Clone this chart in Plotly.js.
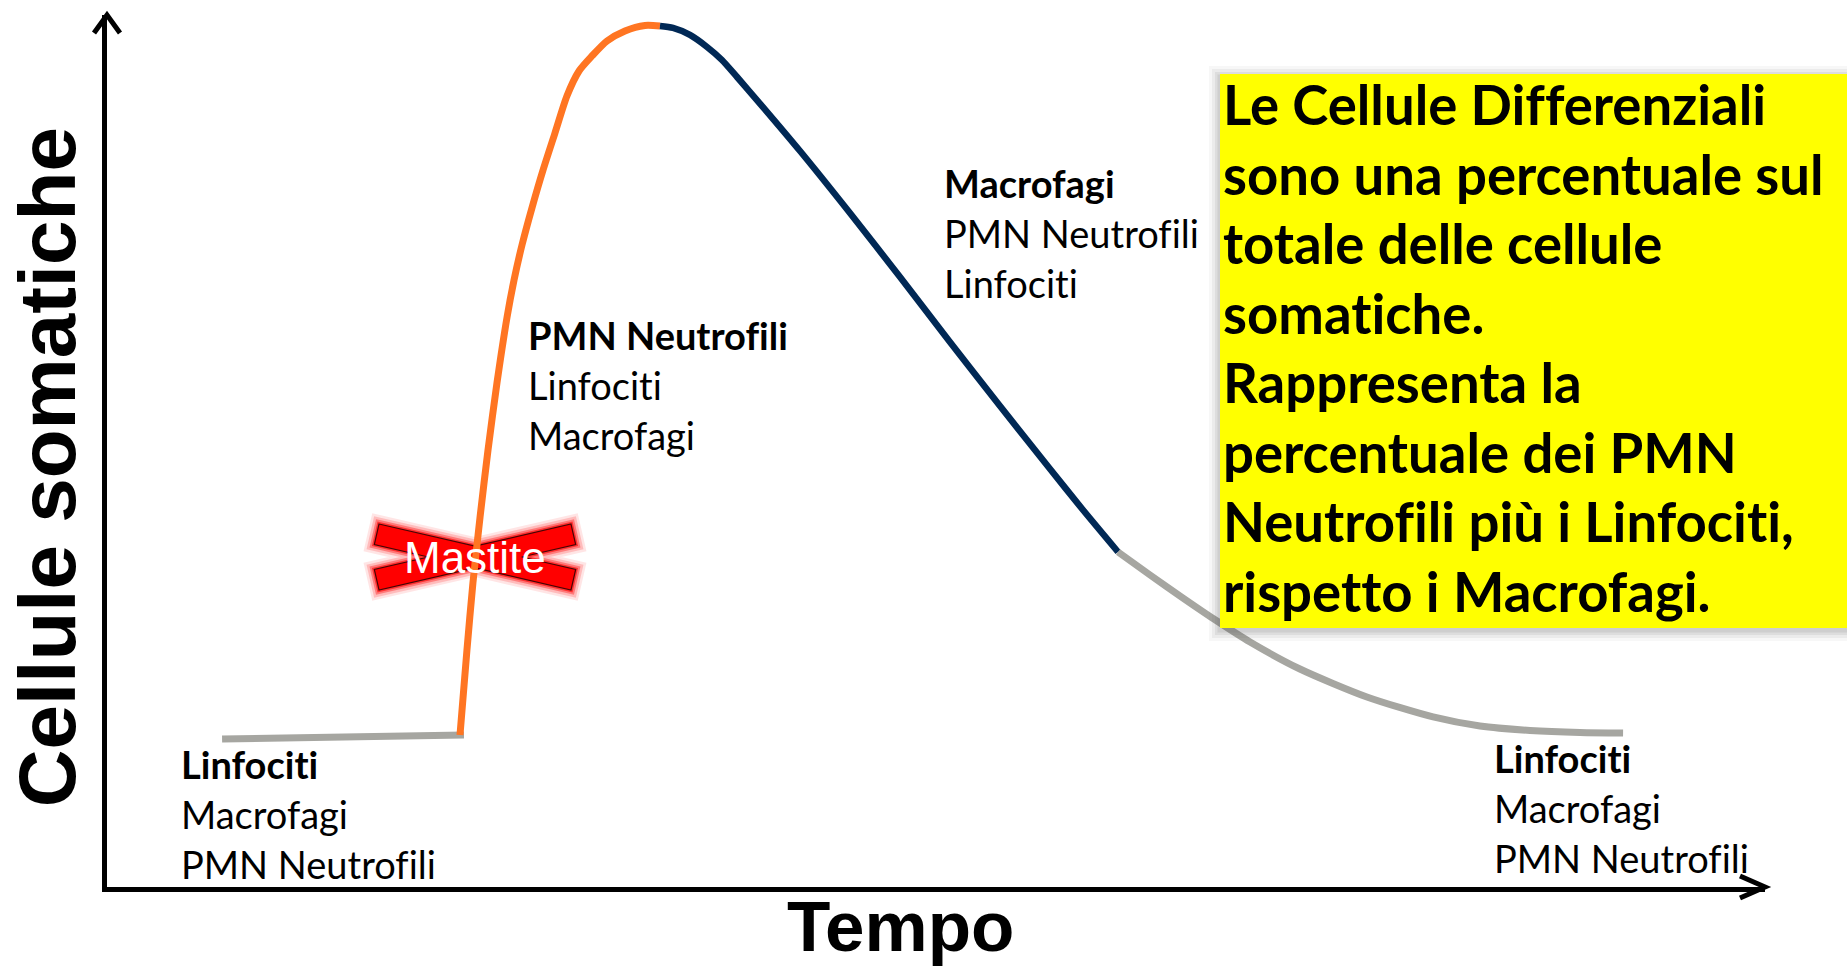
<!DOCTYPE html>
<html>
<head>
<meta charset="utf-8">
<script src="https://cdn.plot.ly/plotly-3.0.1.min.js"></script>
<style>
html,body{margin:0;padding:0;background:#fff;overflow:hidden;}
#chart{width:1847px;height:967px;}
svg text{font-variant-ligatures:none !important;font-feature-settings:"liga" 0,"clig" 0,"dlig" 0 !important;}
</style>
</head>
<body>
<div id="chart"></div>
<script>
// ---------------- DATA (time in arbitrary units, somatic cells in arbitrary units) ----------------
const baseTime  = [6.94, 21.53];
const baseCells = [16.97, 17.43];

const riseTime  = [21.29, 21.71, 22.07, 22.50, 22.98, 23.52, 24.13, 24.55, 25.03, 25.63, 26.30, 27.02, 27.74, 28.47, 29.25, 30.16, 31.24, 32.45, 33.35];
const riseCells = [17.43, 27.18, 34.86, 42.43, 50.11, 57.80, 65.37, 69.61, 73.62, 77.87, 82.22, 86.47, 90.71, 93.58, 95.30, 97.02, 98.17, 98.80, 98.74];

const fallTime  = [33.35, 34.14, 35.16, 36.19, 37.09, 38.00, 39.20, 41.80, 44.81, 47.83, 50.84, 53.86, 56.88, 58.87, 60.98];
const fallCells = [98.74, 98.51, 97.71, 96.33, 94.84, 92.89, 90.25, 84.40, 77.29, 69.95, 62.50, 55.16, 47.94, 43.23, 38.42];

const tailTime  = [60.98, 62.91, 64.90, 66.95, 68.94, 71.95, 75.99, 79.98, 82.81, 85.83, 88.84, 91.44];
const tailCells = [38.42, 35.78, 33.14, 30.50, 28.10, 25.00, 21.79, 19.50, 18.46, 17.95, 17.72, 17.66];

const phaseLabels = [
  ['Linfociti', 'Macrofagi', 'PMN Neutrofili'],
  ['PMN Neutrofili', 'Linfociti', 'Macrofagi'],
  ['Macrofagi', 'PMN Neutrofili', 'Linfociti'],
  ['Linfociti', 'Macrofagi', 'PMN Neutrofili']
];
const noteLines = [
  'Le Cellule Differenziali',
  'sono una percentuale sul',
  'totale delle cellule',
  'somatiche.',
  'Rappresenta la',
  'percentuale dei PMN',
  'Neutrofili più i Linfociti,',
  'rispetto i Macrofagi.'
];
const mastiteLabel = 'Mastite';
const xTitle = 'Tempo';
const yTitle = 'Cellule somatiche';

// ---------------- LAYOUT HELPERS (pixel placement) ----------------
const PL = 107, PR = 1765, PT = 15, PB = 887;
const px = v => (v - PL) / (PR - PL);
const py = v => (PB - v) / (PB - PT);

const LABEL_FONT = 'Lato, "Open Sans", sans-serif';
const SANS_FONT = '"Liberation Sans", Arial, sans-serif';

const labelSize = 38, labelStep = 50;
const blockLeft = [180.5, 527.5, 943.5, 1493.5];
const blockBase = [779, 350, 198, 773];

const noteSize = 54.5, noteStep = 69.5, noteLeft = 1222.5, noteBase = 125.5;

const traces = [
  {x: baseTime, y: baseCells, mode: 'lines', line: {color: '#A6A6A1', width: 7}, hoverinfo: 'skip'},
  {x: riseTime, y: riseCells, mode: 'lines', line: {color: '#FF7522', width: 7, shape: 'spline', smoothing: 0.7}, hoverinfo: 'skip'},
  {x: fallTime, y: fallCells, mode: 'lines', line: {color: '#002855', width: 6.5, shape: 'spline', smoothing: 0.7}, hoverinfo: 'skip'},
  {x: tailTime, y: tailCells, mode: 'lines', line: {color: '#A6A6A1', width: 7, shape: 'spline', smoothing: 0.7}, hoverinfo: 'skip'}
];

const annotations = [];
phaseLabels.forEach((lines, i) => {
  lines.forEach((t, j) => {
    const base = blockBase[i] + j * labelStep;
    annotations.push({
      xref: 'paper', yref: 'paper', x: px(blockLeft[i]), y: py(base - 0.387 * labelSize),
      xanchor: 'left', yanchor: 'middle', showarrow: false, borderpad: 0, borderwidth: 0,
      text: j === 0 ? '<b>' + t + '</b>' : t,
      font: {family: LABEL_FONT, size: labelSize, color: '#000'}
    });
  });
});
noteLines.forEach((t, j) => {
  const base = noteBase + j * noteStep;
  annotations.push({
    xref: 'paper', yref: 'paper', x: px(noteLeft), y: py(base - 0.387 * noteSize),
    xanchor: 'left', yanchor: 'middle', showarrow: false, borderpad: 0, borderwidth: 0,
    text: '<b>' + t + '</b>',
    font: {family: LABEL_FONT, size: noteSize, color: '#000'}
  });
});
// Mastite label
annotations.push({
  xref: 'paper', yref: 'paper', x: px(475), y: py(557.8), xanchor: 'center', yanchor: 'middle',
  showarrow: false, borderpad: 0, borderwidth: 0, text: mastiteLabel,
  font: {family: SANS_FONT, size: 44, color: '#fff'}
});
// axis titles
annotations.push({
  xref: 'paper', yref: 'paper', x: px(900), y: py(951 - 0.3465 * 71), xanchor: 'center', yanchor: 'middle',
  showarrow: false, borderpad: 0, borderwidth: 0, text: '<b>' + xTitle + '</b>',
  font: {family: SANS_FONT, size: 71, color: '#000'}
});
annotations.push({
  xref: 'paper', yref: 'paper', x: px(47.3), y: py(467), xanchor: 'center', yanchor: 'middle',
  textangle: -90, showarrow: false, borderpad: 0, borderwidth: 0, text: '<b>' + yTitle + '</b>',
  font: {family: SANS_FONT, size: 80, color: '#000'}
});

// shapes
const shapes = [];
// Mastite cross (glow + fill)
const crossPath = 'M -96 33 L 0 10.8 L 96 33 L 100.7 12.5 L 46.7 0 L 100.7 -12.5 L 96 -33 L 0 -10.8 L -96 -33 L -100.7 -12.5 L -46.7 0 L -100.7 12.5 Z';
[[18, 'rgba(255,0,0,0.10)'], [13, 'rgba(255,0,0,0.18)'], [8, 'rgba(255,0,0,0.35)'], [4, 'rgba(255,0,0,0.6)']].forEach(g => {
  shapes.push({type: 'path', layer: 'below', xref: 'paper', yref: 'paper', xsizemode: 'pixel', ysizemode: 'pixel',
    xanchor: px(475), yanchor: py(557), path: crossPath, fillcolor: 'rgba(255,0,0,0)', line: {color: g[1], width: g[0]}});
});
shapes.push({type: 'path', layer: 'below', xref: 'paper', yref: 'paper', xsizemode: 'pixel', ysizemode: 'pixel',
  xanchor: px(475), yanchor: py(557), path: crossPath, fillcolor: '#FF0000', line: {color: 'rgba(40,0,0,0.85)', width: 1.2}});

// yellow note box with soft shadow
[[11, 'rgba(90,90,90,0.05)'], [8, 'rgba(90,90,90,0.07)'], [5, 'rgba(90,90,90,0.09)'], [2.5, 'rgba(90,90,90,0.11)']].forEach(s => {
  shapes.push({type: 'rect', layer: 'above', xref: 'paper', yref: 'paper',
    x0: px(1220 - s[0]), x1: px(1870), y0: py(628 + s[0] + 2), y1: py(74 - s[0] + 3),
    fillcolor: s[1], line: {width: 0}});
});
shapes.push({type: 'rect', layer: 'above', xref: 'paper', yref: 'paper',
  x0: px(1220), x1: px(1870), y0: py(628), y1: py(74), fillcolor: '#FFFF00', line: {width: 0}});

// axis arrow heads
shapes.push({type: 'path', layer: 'above', xref: 'paper', yref: 'paper', xsizemode: 'pixel', ysizemode: 'pixel',
  xanchor: 0, yanchor: 1, path: 'M -13 -18 L 0 0 L 13 -18', line: {color: '#000', width: 5}});
shapes.push({type: 'path', layer: 'above', xref: 'paper', yref: 'paper', xsizemode: 'pixel', ysizemode: 'pixel',
  xanchor: 1, yanchor: 0, path: 'M -25 11 L 0 0 L -25 -11', line: {color: '#000', width: 5}});

const axisCommon = {range: [0, 100], showgrid: false, zeroline: false, showticklabels: false, ticks: '',
  showline: true, linecolor: '#000', linewidth: 5, fixedrange: true};

const layout = {
  width: 1847, height: 967,
  margin: {l: PL, r: 1847 - PR, t: PT, b: 967 - PB, pad: 0},
  paper_bgcolor: '#fff', plot_bgcolor: '#fff',
  showlegend: false,
  xaxis: Object.assign({}, axisCommon),
  yaxis: Object.assign({}, axisCommon),
  annotations: annotations,
  shapes: shapes
};

Plotly.newPlot('chart', traces, layout, {staticPlot: true, displayModeBar: false});
</script>
</body>
</html>
